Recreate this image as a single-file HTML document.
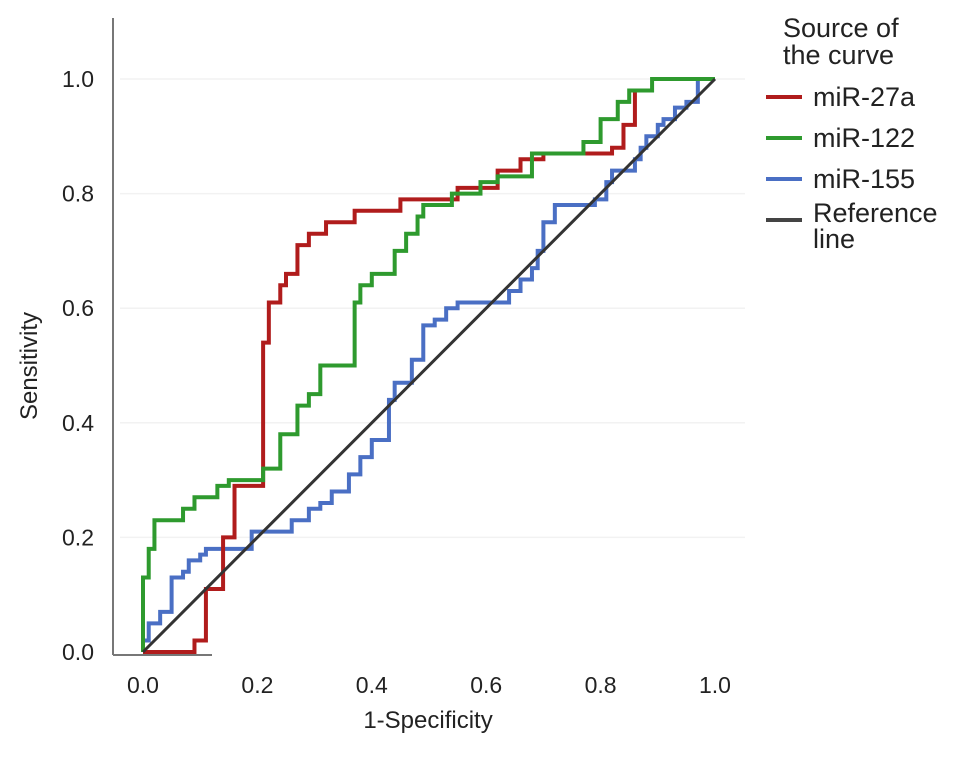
<!DOCTYPE html>
<html><head><meta charset="utf-8"><style>
body{margin:0;background:#fff}
svg text{font-family:"Liberation Sans",sans-serif;fill:#222}
</style></head><body>
<svg width="969" height="752" viewBox="0 0 969 752">
<g id="grid"></g>
<line x1="113" y1="18" x2="113" y2="655" stroke="#777" stroke-width="2"/>
<line x1="113" y1="655" x2="212" y2="655" stroke="#777" stroke-width="2"/>
<g id="ticks"></g>
<g id="series"></g>
<text x="428" y="728" font-size="24" text-anchor="middle">1-Specificity</text>
<text transform="translate(37,366) rotate(-90)" font-size="24" text-anchor="middle">Sensitivity</text>
<g>
<text x="783" y="37" font-size="27">Source of</text>
<text x="783" y="64" font-size="27">the curve</text>
<line x1="766" y1="97" x2="802" y2="97" stroke="#b01c1c" stroke-width="4"/>
<text x="813" y="106" font-size="27">miR-27a</text>
<line x1="766" y1="138" x2="802" y2="138" stroke="#2e9a2e" stroke-width="4"/>
<text x="813" y="147" font-size="27">miR-122</text>
<line x1="766" y1="179" x2="802" y2="179" stroke="#4a6fc4" stroke-width="4"/>
<text x="813" y="188" font-size="27">miR-155</text>
<line x1="766" y1="220" x2="802" y2="220" stroke="#444" stroke-width="4"/>
<text x="813" y="222" font-size="27">Reference</text>
<text x="813" y="248" font-size="27">line</text>
</g>
</svg>
<script>
const tickValues=[0,0.2,0.4,0.6,0.8,1.0];
const tickLabels=["0.0","0.2","0.4","0.6","0.8","1.0"];
const redX=[0,0.09,0.11,0.14,0.16,0.21,0.22,0.24,0.25,0.27,0.29,0.32,0.37,0.45,0.55,0.62,0.66,0.70,0.82,0.84,0.86];
const redY=[0,0.02,0.11,0.2,0.29,0.54,0.61,0.64,0.66,0.71,0.73,0.75,0.77,0.79,0.81,0.84,0.86,0.87,0.88,0.92,0.98];
const greenX=[0,0.01,0.02,0.07,0.09,0.13,0.15,0.21,0.24,0.27,0.29,0.31,0.37,0.38,0.40,0.44,0.46,0.48,0.49,0.54,0.59,0.62,0.68,0.77,0.80,0.83,0.85,0.89,1.0];
const greenY=[0.13,0.18,0.23,0.25,0.27,0.29,0.30,0.32,0.38,0.43,0.45,0.50,0.61,0.64,0.66,0.70,0.73,0.76,0.78,0.80,0.82,0.83,0.87,0.89,0.93,0.96,0.98,1.0,1.0];
const blueX=[0,0.01,0.03,0.05,0.07,0.08,0.1,0.11,0.19,0.26,0.29,0.31,0.33,0.36,0.38,0.40,0.43,0.44,0.47,0.49,0.51,0.53,0.55,0.62,0.64,0.66,0.68,0.69,0.70,0.72,0.79,0.81,0.82,0.86,0.87,0.88,0.90,0.91,0.93,0.95,0.97,1.0];
const blueY=[0.02,0.05,0.07,0.13,0.14,0.16,0.17,0.18,0.21,0.23,0.25,0.26,0.28,0.31,0.34,0.37,0.44,0.47,0.51,0.57,0.58,0.60,0.61,0.61,0.63,0.65,0.67,0.70,0.75,0.78,0.79,0.82,0.84,0.86,0.88,0.90,0.92,0.93,0.95,0.96,1.0,1.0];
const refX=[0,1];
const refY=[0,1];
const X0=143,X1=715,Y0=652,Y1=79;
function sx(v){return X0+(X1-X0)*v;}
function sy(v){return Y0-(Y0-Y1)*v;}
const NS="http://www.w3.org/2000/svg";
const grid=document.getElementById('grid'),ticks=document.getElementById('ticks'),series=document.getElementById('series');
tickValues.forEach((v,i)=>{
  if(v>0){const g=document.createElementNS(NS,'line');
  g.setAttribute('x1',120);g.setAttribute('x2',745);g.setAttribute('y1',sy(v));g.setAttribute('y2',sy(v));
  g.setAttribute('stroke','#f2f2f2');g.setAttribute('stroke-width','1.5');
  
  
  grid.appendChild(g);}
  const ty=document.createElementNS(NS,'text');
  ty.setAttribute('x',94);ty.setAttribute('y',sy(v)+8);ty.setAttribute('text-anchor','end');ty.setAttribute('font-size','23');
  ty.textContent=tickLabels[i];
  
  
  ticks.appendChild(ty);
  const tx=document.createElementNS(NS,'text');
  tx.setAttribute('x',sx(v));tx.setAttribute('y',693);tx.setAttribute('text-anchor','middle');tx.setAttribute('font-size','23');
  tx.textContent=tickLabels[i];
  
  
  ticks.appendChild(tx);
});
function stepPath(xs,ys){
  let d='M'+sx(xs[0])+','+sy(0);
  for(let i=0;i<xs.length;i++){
    if(i>0)d+=' L'+sx(xs[i])+','+sy(ys[i-1]);
    d+=' L'+sx(xs[i])+','+sy(ys[i]);
  }
  return d;
}
function addPath(d,color,name){
  const p=document.createElementNS(NS,'path');
  p.setAttribute('d',d);p.setAttribute('fill','none');p.setAttribute('stroke',color);p.setAttribute('stroke-width','4');
  
  
  series.appendChild(p);
}
addPath(stepPath(blueX,blueY),'#4a6fc4','mir155-curve');
addPath(stepPath(redX,redY),'#b01c1c','mir27a-curve');
addPath(stepPath(greenX,greenY),'#2e9a2e','mir122-curve');
const ref=document.createElementNS(NS,'line');
ref.setAttribute('x1',sx(refX[0]));ref.setAttribute('y1',sy(refY[0]));ref.setAttribute('x2',sx(refX[1]));ref.setAttribute('y2',sy(refY[1]));
ref.setAttribute('stroke','#333');ref.setAttribute('stroke-width','3');


series.appendChild(ref);
</script>
</body></html>
